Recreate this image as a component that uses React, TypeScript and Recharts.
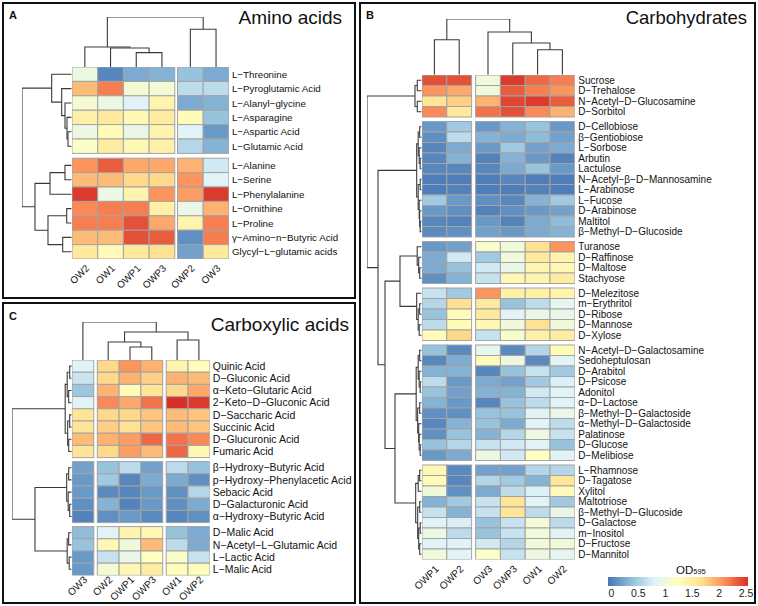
import React from 'react';
import { ScatterChart, Scatter, XAxis, YAxis } from 'recharts';

type Tree = number | [Tree, Tree, number];

const FONT = '"Liberation Sans", Arial, Helvetica, sans-serif';

const COLOR_STOPS = ['#4575B4', '#91BFDB', '#E0F3F8', '#FFFFBF', '#FEE090', '#FC8D59', '#D73027'];
const VALUE_MIN = 0;
const VALUE_MAX = 2.5;
const LEGEND_TICKS = [0, 0.5, 1, 1.5, 2, 2.5];

// ---------------- Panel A : Amino acids ----------------
const A_COLS = ['OW2', 'OW1', 'OWP1', 'OWP3', 'OWP2', 'OW3'];
const A_COL_GROUPS = [4, 2];
const A_ROWS = [
  'L−Threonine', 'L−Pyroglutamic Acid', 'L−Alanyl−glycine', 'L−Asparagine', 'L−Aspartic Acid', 'L−Glutamic Acid',
  'L−Alanine', 'L−Serine', 'L−Phenylalanine', 'L−Ornithine', 'L−Proline', 'γ−Amino−n−Butyric Acid', 'Glycyl−L−glutamic acids',
];
const A_ROW_GROUPS = [6, 7];
const A_VALUES = [
  [1.0, 0.1, 0.3, 0.35, 0.45, 0.3],
  [1.85, 2.15, 1.1, 1.1, 0.65, 0.65],
  [1.1, 1.0, 0.85, 1.4, 0.3, 0.35],
  [1.45, 1.55, 1.35, 1.5, 1.3, 0.45],
  [1.0, 1.3, 0.95, 1.4, 0.85, 0.2],
  [1.2, 1.5, 1.35, 1.45, 0.6, 0.35],
  [2.05, 2.3, 1.95, 1.95, 1.9, 0.75],
  [1.85, 1.85, 1.7, 1.7, 2.05, 0.85],
  [2.45, 1.0, 1.4, 2.05, 2.0, 2.45],
  [2.1, 2.15, 2.15, 1.45, 0.95, 1.9],
  [2.15, 2.15, 2.35, 1.95, 1.4, 2.15],
  [1.85, 1.85, 2.35, 2.3, 0.15, 2.15],
  [1.55, 1.3, 1.55, 1.65, 0.25, 1.55],
];
const A_COL_TREE: Tree = [[0, [1, [2, 3, 14.4], 19], 20], [4, 5, 37.7], 50];
const A_ROW_TREE: Tree = [
  [0, [1, [2, [3, [4, 5, 3.7], 4.7], 6.7], 10], 20],
  [[[6, 7, 6.7], 8, 21.7], [[9, 10, 5], [11, 12, 9], 23.7], 36.7],
  49.7,
];

// ---------------- Panel B : Carbohydrates ----------------
const B_COLS = ['OWP1', 'OWP2', 'OW3', 'OWP3', 'OW1', 'OW2'];
const B_COL_GROUPS = [2, 4];
const B_ROWS = [
  'Sucrose', 'D−Trehalose', 'N−Acetyl−D−Glucosamine', 'D−Sorbitol',
  'D−Cellobiose', 'β−Gentiobiose', 'L−Sorbose', 'Arbutin', 'Lactulose', 'N−Acetyl−β−D−Mannosamine', 'L−Arabinose',
  'L−Fucose', 'D−Arabinose', 'Maltitol', 'β−Methyl−D−Glucoside',
  'Turanose', 'D−Raffinose', 'D−Maltose', 'Stachyose',
  'D−Melezitose', 'm−Erythritol', 'D−Ribose', 'D−Mannose', 'D−Xylose',
  'N−Acetyl−D−Galactosamine', 'Sedoheptulosan', 'D−Arabitol', 'D−Psicose', 'Adonitol', 'α−D−Lactose',
  'β−Methyl−D−Galactoside', 'α−Methyl−D−Galactoside', 'Palatinose', 'D−Glucose', 'D−Melibiose',
  'L−Rhamnose', 'D−Tagatose', 'Xylitol', 'Maltotriose', 'β−Methyl−D−Glucoside', 'D−Galactose', 'm−Inositol',
  'D−Fructose', 'D−Mannitol',
];
const B_ROW_GROUPS = [4, 11, 4, 5, 11, 9];
const B_VALUES = [
  [2.35, 2.35, 1.05, 2.45, 2.25, 2.15],
  [2.05, 1.95, 1.05, 2.3, 2.15, 2.05],
  [1.6, 1.75, 1.9, 2.4, 2.45, 2.3],
  [2.1, 1.55, 2.2, 2.35, 2.1, 1.9],
  [0.2, 0.5, 0.2, 0.35, 0.45, 0.2],
  [0.15, 0.65, 0.35, 0.3, 0.4, 0.25],
  [0.1, 0.3, 0.2, 0.5, 0.25, 0.3],
  [0.1, 0.35, 0.08, 0.35, 0.2, 0.08],
  [0.1, 0.1, 0.1, 0.3, 0.45, 0.2],
  [0.05, 0.05, 0.05, 0.1, 0.05, 0.05],
  [0.05, 0.08, 0.05, 0.05, 0.08, 0.05],
  [0.5, 0.2, 0.15, 0.1, 0.35, 0.5],
  [0.2, 0.15, 0.08, 0.15, 0.2, 0.25],
  [0.1, 0.08, 0.2, 0.08, 0.3, 0.4],
  [0.12, 0.15, 0.25, 0.2, 0.3, 0.35],
  [0.2, 0.25, 1.15, 1.05, 1.65, 2.05],
  [0.3, 0.75, 0.5, 1.05, 1.55, 1.4],
  [0.3, 0.45, 0.75, 0.95, 1.38, 1.35],
  [0.15, 0.35, 0.7, 1.35, 1.4, 1.5],
  [0.7, 0.5, 2.05, 1.45, 1.45, 1.4],
  [0.6, 1.65, 1.55, 0.45, 0.65, 0.9],
  [0.45, 1.3, 1.55, 0.85, 0.95, 0.95],
  [0.65, 1.3, 1.35, 1.05, 1.65, 1.05],
  [1.3, 1.7, 0.7, 1.15, 1.45, 1.5],
  [0.45, 0.12, 0.9, 0.12, 0.6, 1.3],
  [0.1, 0.3, 1.3, 1.0, 0.12, 0.85],
  [0.35, 0.35, 0.1, 0.45, 0.7, 0.5],
  [0.65, 0.2, 0.3, 0.25, 0.5, 0.8],
  [0.45, 0.25, 0.35, 0.35, 0.75, 0.85],
  [0.35, 0.2, 0.1, 0.45, 0.65, 0.85],
  [0.15, 0.15, 0.45, 0.45, 0.85, 0.95],
  [0.1, 0.35, 0.45, 0.3, 0.85, 0.65],
  [0.15, 0.45, 0.35, 0.6, 1.0, 0.7],
  [0.45, 0.6, 0.7, 0.75, 0.85, 0.45],
  [0.2, 0.3, 1.0, 0.75, 1.25, 0.85],
  [1.35, 0.12, 0.25, 0.25, 0.6, 0.6],
  [1.3, 0.1, 0.6, 0.5, 0.35, 1.6],
  [1.05, 0.15, 0.3, 0.65, 0.8, 1.3],
  [0.35, 0.5, 0.7, 1.6, 0.85, 0.5],
  [0.7, 0.35, 0.7, 1.6, 0.65, 0.95],
  [0.85, 0.8, 0.45, 0.7, 1.1, 0.65],
  [1.0, 0.65, 0.45, 0.7, 1.05, 0.85],
  [0.85, 0.85, 0.75, 0.6, 1.05, 1.05],
  [1.05, 0.85, 1.2, 0.7, 1.0, 0.9],
];
const B_COL_TREE: Tree = [[0, 1, 35], [2, [3, [4, 5, 25], 31.7], 42.7], 55.7];
const B_ROW_TREE: Tree = [
  [[0, 1, 4.4], [2, 3, 4.4], 6.7],
  [
    [[[4, 5, 2], [6, [7, 8, 1.5], 2.5], 3.5], [[9, 10, 1.5], [11, [12, [13, 14, 1.5], 2], 2.5], 3.5], 5],
    [
      [[15, [16, [17, 18, 2], 3], 4.5], [19, [[20, 21, 2], [22, 23, 2.5], 3.5], 5], 21.7],
      [
        [[[24, 25, 2], [26, [27, 28, 1.5], 2.5], 3.5], [[29, 30, 2], [31, [32, [33, 34, 1.5], 2.5], 3], 4], 5.5],
        [[[35, 36, 2], 37, 3.5], [[38, 39, 2], [[40, 41, 1.5], [42, 43, 2], 3], 4], 6],
        26.7,
      ],
      36.7,
    ],
    43.7,
  ],
  54.7,
];

// ---------------- Panel C : Carboxylic acids ----------------
const C_COLS = ['OW3', 'OW2', 'OWP1', 'OWP3', 'OW1', 'OWP2'];
const C_COL_GROUPS = [1, 3, 2];
const C_ROWS = [
  'Quinic Acid', 'D−Gluconic Acid', 'α−Keto−Glutaric Acid', '2−Keto−D−Gluconic Acid', 'D−Saccharic Acid',
  'Succinic Acid', 'D−Glucuronic Acid', 'Fumaric Acid',
  'β−Hydroxy−Butyric Acid', 'p−Hydroxy−Phenylacetic Acid', 'Sebacic Acid', 'D−Galacturonic Acid', 'α−Hydroxy−Butyric Acid',
  'D−Malic Acid', 'N−Acetyl−L−Glutamic Acid', 'L−Lactic Acid', 'L−Malic Acid',
];
const C_ROW_GROUPS = [8, 5, 4];
const C_VALUES = [
  [0.85, 1.7, 2.05, 1.9, 1.4, 1.3],
  [0.72, 1.7, 1.9, 1.75, 1.9, 1.85],
  [0.48, 1.9, 1.3, 1.6, 1.7, 1.95],
  [0.85, 2.1, 1.95, 2.2, 2.5, 2.45],
  [1.6, 1.7, 1.7, 1.8, 1.85, 1.8],
  [1.6, 1.75, 1.65, 1.8, 1.85, 1.8],
  [1.85, 1.9, 2.0, 2.25, 2.2, 2.1],
  [1.6, 1.7, 2.0, 1.85, 2.25, 1.35],
  [0.25, 0.45, 0.65, 0.25, 0.65, 0.45],
  [0.2, 0.5, 0.1, 0.3, 0.3, 0.15],
  [0.2, 0.12, 0.1, 0.2, 0.15, 0.6],
  [0.15, 0.35, 0.08, 0.2, 0.15, 0.3],
  [0.08, 0.15, 0.2, 0.12, 0.1, 0.15],
  [0.4, 0.85, 1.4, 1.35, 0.45, 0.3],
  [0.45, 1.35, 1.05, 1.85, 0.65, 0.3],
  [0.2, 0.7, 0.95, 1.25, 1.2, 0.7],
  [0.2, 1.1, 1.35, 1.5, 1.3, 1.3],
];
const C_COL_TREE: Tree = [0, [[1, [2, 3, 13], 18], [4, 5, 20], 28], 38];
const C_ROW_TREE: Tree = [
  [[[0, 1, 2], [2, 3, 3], 4.5], [[4, 5, 2], [6, 7, 3], 4], 6.5],
  [[[8, 9, 3], [10, [11, 12, 2], 3.5], 5], [[13, 14, 3], [15, 16, 2.5], 4.5], 36.7],
  59.7,
];

// ---------------- helpers ----------------
function hexToRgb(h: string): number[] {
  const n = parseInt(h.slice(1), 16);
  return [(n >> 16) & 255, (n >> 8) & 255, n & 255];
}
function colorOf(v: number): string {
  const t = Math.max(0, Math.min(1, (v - VALUE_MIN) / (VALUE_MAX - VALUE_MIN))) * (COLOR_STOPS.length - 1);
  const i = Math.min(Math.floor(t), COLOR_STOPS.length - 2);
  const f = t - i;
  const a = hexToRgb(COLOR_STOPS[i]);
  const b = hexToRgb(COLOR_STOPS[i + 1]);
  const c = a.map((x, k) => Math.round(x + (b[k] - x) * f));
  return `rgb(${c[0]},${c[1]},${c[2]})`;
}
function centers(groups: number[], gap: number): number[] {
  const out: number[] = [];
  groups.forEach((n, g) => {
    for (let k = 0; k < n; k++) out.push(out.length + g * gap + 0.5);
  });
  return out;
}
type P = { a: number; h: number };
function layoutTree(t: Tree, pos: number[], segs: P[][]): P {
  if (typeof t === 'number') return { a: pos[t], h: 0 };
  const l = layoutTree(t[0], pos, segs);
  const r = layoutTree(t[1], pos, segs);
  const h = t[2];
  segs.push([{ a: l.a, h: l.h }, { a: l.a, h }, { a: r.a, h }, { a: r.a, h: r.h }]);
  return { a: (l.a + r.a) / 2, h };
}

interface PanelCfg {
  cols: string[]; colGroups: number[]; rows: string[]; rowGroups: number[]; values: number[][];
  colTree: Tree; rowTree: Tree;
  x0: number; y0: number; cw: number; ch: number; gx: number; gy: number;
  labelW: number; labelGap: number; colLabelH: number; fontSize: number; colFontSize: number; colDy: number;
}

const emptyShape = () => <g />;
const LINE = { stroke: '#3a3a3a', strokeWidth: 1.1 };

function HeatPanel({ c }: { c: PanelCfg }) {
  const gxU = c.gx / c.cw;
  const gyU = c.gy / c.ch;
  const xs = centers(c.colGroups, gxU);
  const ys = centers(c.rowGroups, gyU);
  const totalX = c.cols.length + (c.colGroups.length - 1) * gxU;
  const totalY = c.rows.length + (c.rowGroups.length - 1) * gyU;
  const plotW = totalX * c.cw;
  const plotH = totalY * c.ch;
  const cells: { x: number; y: number; v: number }[] = [];
  c.values.forEach((row, i) => row.forEach((v, j) => cells.push({ x: xs[j], y: ys[i], v })));
  const colSegs: P[][] = [];
  const colDH = layoutTree(c.colTree, xs, colSegs).h;
  const rowSegs: P[][] = [];
  const rowDH = layoutTree(c.rowTree, ys, rowSegs).h;
  const M = 1;
  const LM = 36;

  const cellShape = (p: any) => (
    <rect x={p.cx - c.cw / 2} y={p.cy - c.ch / 2} width={c.cw} height={c.ch}
      fill={colorOf(p.payload.v)} stroke="#a3a3a3" strokeWidth={1} />
  );
  const colTick = (p: any) => {
    const idx = xs.findIndex((v) => Math.abs(v - p.payload.value) < 1e-6);
    const ax = p.x + 5;
    const ay = p.y + c.colDy;
    return (
      <text x={ax} y={ay} transform={`rotate(-45 ${ax} ${ay})`} textAnchor="end"
        fontSize={c.colFontSize} fontFamily={FONT} fill="#111">{c.cols[idx]}</text>
    );
  };
  const rowTick = (p: any) => {
    const idx = ys.findIndex((v) => Math.abs(v - p.payload.value) < 1e-6);
    return (
      <text x={p.x} y={p.y} dy="0.36em" textAnchor="start" fontSize={c.fontSize} fontFamily={FONT} fill="#111">
        {c.rows[idx]}
      </text>
    );
  };

  return (
    <>
      <div style={{ position: 'absolute', left: c.x0 - LM, top: c.y0 - M }}>
        <ScatterChart width={LM + plotW + c.labelW} height={M + plotH + c.colLabelH}
          margin={{ top: M, left: LM, right: 0, bottom: 0 }}>
          <XAxis type="number" dataKey="x" domain={[0, totalX]} ticks={xs} interval={0} allowDataOverflow
            axisLine={false} tickLine={false} tickSize={0} tickMargin={0} height={c.colLabelH} tick={colTick} />
          <YAxis type="number" dataKey="y" domain={[0, totalY]} reversed orientation="right" ticks={ys} interval={0}
            allowDataOverflow axisLine={false} tickLine={false} tickSize={0} tickMargin={c.labelGap}
            width={c.labelW} tick={rowTick} />
          <Scatter data={cells} shape={cellShape} isAnimationActive={false} />
        </ScatterChart>
      </div>
      <div style={{ position: 'absolute', left: c.x0 - M, top: c.y0 - colDH - M }}>
        <ScatterChart width={plotW + 2 * M} height={colDH + 2 * M} margin={{ top: M, left: M, right: M, bottom: M }}>
          <XAxis type="number" dataKey="x" domain={[0, totalX]} hide allowDataOverflow />
          <YAxis type="number" dataKey="y" domain={[0, colDH]} hide allowDataOverflow />
          {colSegs.map((s, k) => (
            <Scatter key={k} data={s.map((q) => ({ x: q.a, y: q.h }))} line={LINE} lineType="joint"
              shape={emptyShape} isAnimationActive={false} />
          ))}
        </ScatterChart>
      </div>
      <div style={{ position: 'absolute', left: c.x0 - rowDH - M, top: c.y0 - M }}>
        <ScatterChart width={rowDH + 2 * M} height={plotH + 2 * M} margin={{ top: M, left: M, right: M, bottom: M }}>
          <XAxis type="number" dataKey="x" domain={[0, rowDH]} reversed hide allowDataOverflow />
          <YAxis type="number" dataKey="y" domain={[0, totalY]} reversed hide allowDataOverflow />
          {rowSegs.map((s, k) => (
            <Scatter key={k} data={s.map((q) => ({ x: q.h, y: q.a }))} line={LINE} lineType="joint"
              shape={emptyShape} isAnimationActive={false} />
          ))}
        </ScatterChart>
      </div>
    </>
  );
}

const PANEL_A: PanelCfg = {
  cols: A_COLS, colGroups: A_COL_GROUPS, rows: A_ROWS, rowGroups: A_ROW_GROUPS, values: A_VALUES,
  colTree: A_COL_TREE, rowTree: A_ROW_TREE,
  x0: 71.7, y0: 66.7, cw: 25.7, ch: 14.4, gx: 2.7, gy: 4.8, labelW: 125, labelGap: 3, colLabelH: 38,
  fontSize: 9.8, colFontSize: 9.8, colDy: 10,
};
const PANEL_B: PanelCfg = {
  cols: B_COLS, colGroups: B_COL_GROUPS, rows: B_ROWS, rowGroups: B_ROW_GROUPS, values: B_VALUES,
  colTree: B_COL_TREE, rowTree: B_ROW_TREE,
  x0: 421.7, y0: 75, cw: 24.8, ch: 10.5, gx: 4, gy: 4.5, labelW: 177, labelGap: 3.5, colLabelH: 40,
  fontSize: 10, colFontSize: 10, colDy: 10,
};
const PANEL_C: PanelCfg = {
  cols: C_COLS, colGroups: C_COL_GROUPS, rows: C_ROWS, rowGroups: C_ROW_GROUPS, values: C_VALUES,
  colTree: C_COL_TREE, rowTree: C_ROW_TREE,
  x0: 71.7, y0: 360, cw: 21.8, ch: 12.2, gx: 3.5, gy: 4, labelW: 143, labelGap: 3, colLabelH: 29,
  fontSize: 10.5, colFontSize: 10, colDy: 5,
};

function Overlay() {
  const barX = 608, barW = 140, barY = 577, barH = 9;
  const tickX = (v: number) => 611.5 + ((v - VALUE_MIN) / (VALUE_MAX - VALUE_MIN)) * 134.5;
  return (
    <svg width={758} height={606} style={{ position: 'absolute', left: 0, top: 0, pointerEvents: 'none' }}
      fontFamily={FONT}>
      <defs>
        <linearGradient id="odgrad" x1="0" x2="1" y1="0" y2="0">
          {COLOR_STOPS.map((col, i) => (
            <stop key={i} offset={i / (COLOR_STOPS.length - 1)} stopColor={col} />
          ))}
        </linearGradient>
      </defs>
      <rect x={3} y={3} width={352} height={295} fill="none" stroke="#111" strokeWidth={2} />
      <rect x={3} y={303} width={352} height={300} fill="none" stroke="#111" strokeWidth={2} />
      <rect x={360} y={3} width={395} height={600} fill="none" stroke="#111" strokeWidth={2} />
      <text x={9} y={19} fontSize={11} fontWeight="bold" fill="#111">A</text>
      <text x={342} y={24} fontSize={19} textAnchor="end" fill="#111">Amino acids</text>
      <text x={366} y={19} fontSize={11} fontWeight="bold" fill="#111">B</text>
      <text x={747} y={24} fontSize={18.5} textAnchor="end" fill="#111">Carbohydrates</text>
      <text x={9} y={320} fontSize={11} fontWeight="bold" fill="#111">C</text>
      <text x={349} y={331} fontSize={19} textAnchor="end" fill="#111">Carboxylic acids</text>
      <text x={676} y={574} fontSize={11.5} fill="#111">OD<tspan fontSize={7.5}>595</tspan></text>
      <rect x={barX} y={barY} width={barW} height={barH} fill="url(#odgrad)" />
      {LEGEND_TICKS.map((t) => (
        <text key={t} x={tickX(t)} y={597} fontSize={10.5} textAnchor="middle" fill="#222">{t}</text>
      ))}
    </svg>
  );
}

export default function App() {
  return (
    <div style={{ position: 'absolute', left: 0, top: 0, width: 758, height: 606, background: '#fff',
      fontFamily: FONT, overflow: 'hidden' }}>
      <HeatPanel c={PANEL_A} />
      <HeatPanel c={PANEL_B} />
      <HeatPanel c={PANEL_C} />
      <Overlay />
    </div>
  );
}
